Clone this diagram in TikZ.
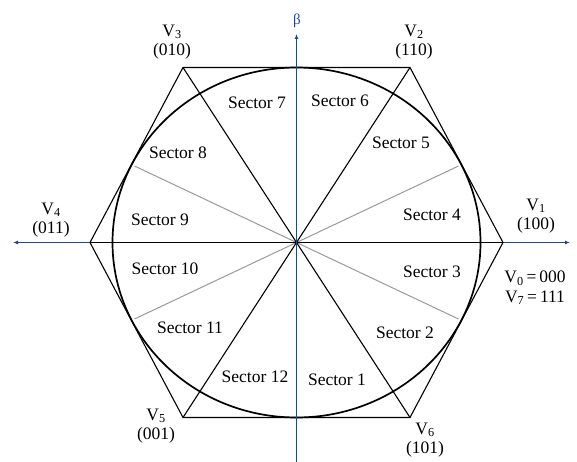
\documentclass[tikz,border=0pt]{standalone}
\usepackage{fontspec}
\setmainfont{Liberation Serif}
\usetikzlibrary{arrows.meta}
\definecolor{axisblue}{HTML}{27487F}
\definecolor{divgray}{HTML}{9A9A9A}
\begin{document}
\begin{tikzpicture}[x=1pt,y=-1pt,
  lbl/.style={font=\fontsize{17.5}{19.5}\selectfont, inner sep=0pt, anchor=center},
  vlbl/.style={font=\fontsize{17.5}{19.5}\selectfont, inner sep=0pt, align=center, anchor=center},
  axisline/.style={axisblue, line width=1pt},
  hexline/.style={black, line width=1.1pt, line join=miter},
  diag/.style={black, line width=1.1pt},
  grayline/.style={divgray, line width=1pt},
  tip/.style={-{Latex[length=5pt,width=4pt]}}
]
\useasboundingbox (0,0) rectangle (577,462);
% key points
\coordinate (O) at (296.5,242.5);
\coordinate (P1) at (503,242.5);
\coordinate (P2) at (410,67.5);
\coordinate (P3) at (183,67.5);
\coordinate (P4) at (90,242.5);
\coordinate (P5) at (183,417.5);
\coordinate (P6) at (410,417.5);
\coordinate (AL) at (13,242.5);
\coordinate (AR) at (570,242.5);
\coordinate (AT) at (296.5,34);
\coordinate (AB) at (296.5,462);
\coordinate (G1) at (458.5,166);
\coordinate (G2) at (134.5,319);
\coordinate (G3) at (458.5,319);
\coordinate (G4) at (134.5,166);
% horizontal axis (both ends arrowed)
\draw[axisline,{Latex[length=5pt,width=4pt]}-{Latex[length=5pt,width=4pt]}] (AL) -- (AR);
% gray dividers
\draw[grayline] (G1) -- (G2);
\draw[grayline] (G3) -- (G4);
% circle
\draw[black, line width=1.7pt] (O) ellipse [x radius=184, y radius=175];
% hexagon
\draw[hexline] (P1) -- (P2) -- (P3) -- (P4) -- (P5) -- (P6) -- cycle;
% diagonals
\draw[diag] (P3) -- (P6);
\draw[diag] (P2) -- (P5);
\draw[diag] (P4) -- (P1);
% vertical axis
\draw[axisline,tip] (AB) -- (AT);
% axis label
\node[lbl, text=axisblue, font=\fontsize{15}{17}\selectfont] (beta) at (297,21) {β};
% vertex labels
\node[vlbl] (v3) at (172,42) {V\textsubscript{3}\\(010)};
\node[vlbl] (v2) at (414,42) {V\textsubscript{2}\\(110)};
\node[vlbl] (v4) at (51,220) {V\textsubscript{4}\\(011)};
\node[vlbl] (v1) at (536,216) {V\textsubscript{1}\\(100)};
\node[vlbl] (v5) at (156,426) {V\textsubscript{5}\\(001)};
\node[vlbl] (v6) at (425,440) {V\textsubscript{6}\\(101)};
\node[vlbl] (v07) at (535,288) {V\textsubscript{0}\,=\,000\\V\textsubscript{7}\,=\,111};
% sector labels
\node[lbl] (s1) at (337,380) {Sector 1};
\node[lbl] (s2) at (405,333) {Sector 2};
\node[lbl] (s3) at (432,272) {Sector 3};
\node[lbl] (s4) at (432,215) {Sector 4};
\node[lbl] (s5) at (401,143) {Sector 5};
\node[lbl] (s6) at (340,101) {Sector 6};
\node[lbl] (s7) at (257,103) {Sector 7};
\node[lbl] (s8) at (178,153) {Sector 8};
\node[lbl] (s9) at (160,220) {Sector 9};
\node[lbl] (s10) at (165,269) {Sector 10};
\node[lbl] (s11) at (190,328) {Sector 11};
\node[lbl] (s12) at (255,377) {Sector 12};
\end{tikzpicture}
\end{document}
